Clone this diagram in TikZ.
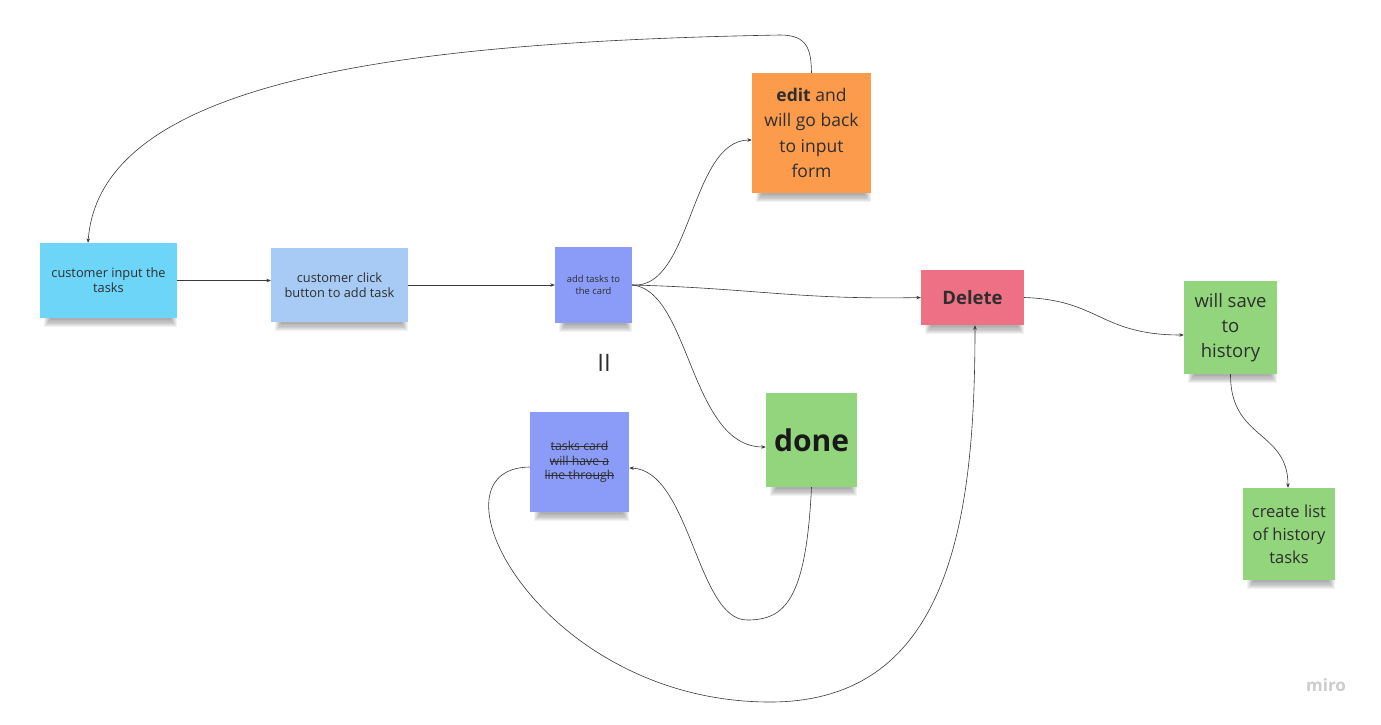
\documentclass[tikz,border=0pt]{standalone}
\usepackage{fontspec}
\setmainfont{Open Sans}
\usetikzlibrary{arrows.meta}
\pgfdeclarelayer{bg}
\pgfsetlayers{bg,main}
\newcommand\mystrike[1]{\setbox0\hbox{#1}\rlap{\raisebox{0.3em}{\rule{\wd0}{0.55pt}}}\box0}
\newcommand\nshadow[1]{%
  \begin{pgfonlayer}{bg}
  \foreach \k in {0,...,6}{%
    \fill[black,opacity=0.05] ([xshift={(10-\k)*1pt}, yshift=6pt]#1.south west) rectangle ([xshift={-(6-\k)*1pt}, yshift={-(2+1.2*\k)*1pt}]#1.south east);}
  \end{pgfonlayer}}
\definecolor{cyanN}{HTML}{6DD5F8}
\definecolor{lblueN}{HTML}{A7CBF4}
\definecolor{periN}{HTML}{8B9CF8}
\definecolor{orangeN}{HTML}{FC9B4C}
\definecolor{greenN}{HTML}{92D57C}
\definecolor{pinkN}{HTML}{EE7085}
\definecolor{txtN}{HTML}{2E2E2E}
\definecolor{lineN}{HTML}{3A3A3A}
\tikzset{
  note/.style={rectangle, inner sep=2pt, align=center, text=txtN},
  conn/.style={draw=lineN, line width=0.6pt, -{Stealth[length=4.5pt,width=3.5pt]}},
}
\begin{document}
\begin{tikzpicture}[x=1pt,y=-1pt]
\useasboundingbox (0,0) rectangle (1381,724);
\begin{pgfonlayer}{bg}
\fill[white] (0,0) rectangle (1381,724);
\end{pgfonlayer}
% notes
\node[note, fill=cyanN, minimum width=137pt, minimum height=75pt, font=\fontsize{12.8}{15}\selectfont] (input) at (108.5,280.5) {customer input the\\tasks};
\node[note, fill=lblueN, minimum width=137pt, minimum height=74pt, font=\fontsize{12.8}{15.5}\selectfont] (click) at (339.5,285) {customer click\\button to add task};
\node[note, fill=periN, minimum width=77pt, minimum height=76pt, font=\fontsize{9.4}{11.5}\selectfont] (add) at (593.5,285) {add tasks to\\the card};
\node[note, fill=orangeN, minimum width=119pt, minimum height=120pt, font=\fontsize{17.5}{25.3}\selectfont] (edit) at (811.5,133) {\textbf{edit} and\\will go back\\to input\\form};
\node[note, fill=periN, minimum width=99pt, minimum height=100pt, font=\fontsize{12.3}{14.5}\selectfont] (card) at (579.5,462) {\mystrike{tasks card}\\\mystrike{will have a}\\\mystrike{line through}};
\node[note, fill=greenN, minimum width=91pt, minimum height=94pt, font=\fontsize{30}{36}\selectfont\bfseries, text=black!90] (done) at (811.5,440) {done};
\node[note, fill=pinkN, minimum width=103pt, minimum height=55pt, font=\fontsize{18.5}{20}\selectfont\bfseries] (delete) at (972.5,297.5) {Delete};
\node[note, fill=greenN, minimum width=93pt, minimum height=93pt, font=\fontsize{18.5}{25}\selectfont] (save) at (1230.5,327.5) {will save\\to\\history};
\node[note, fill=greenN, minimum width=92pt, minimum height=92pt, font=\fontsize{16.5}{23}\selectfont] (list) at (1289,534) {create list\\of history\\tasks};
\foreach \n in {input,click,add,edit,card,done,delete,save,list}{\nshadow{\n}}
\node[font=\fontsize{24}{24}\selectfont, text=txtN] (eq) at (604,363) {II};
\node[font=\fontsize{17}{17}\selectfont\bfseries, text=black!20] (miro) at (1326,685) {miro};
% connectors
\draw[conn] (input.east) -- (click.west |- input.east);
\draw[conn] (click.east |- add.east) -- (add.west);
\draw[conn] (add.east) .. controls (692,290) and (690,140) .. (edit.west |- 0,140);
\draw[conn] (add.east) .. controls (750,288) and (800,300) .. (delete.west);
\draw[conn] (add.east) .. controls (690,290) and (690,447) .. (done.west |- 0,447);
\coordinate (ft) at (780,35);
\draw[conn] (edit.north) .. controls (811,50) and (808,35) .. (ft) .. controls (400,42) and (100,80) .. (input.north -| 88,0);
\coordinate (gb) at (747,620);
\draw[conn] (done.south) .. controls (806,600) and (785,620) .. (gb) .. controls (697,620) and (690,470) .. (card.east |- 0,468);
\coordinate (hb) at (770,702);
\draw[conn] (card.west |- 0,467) .. controls (420,468) and (540,702) .. (hb) .. controls (950,702) and (975,520) .. (delete.south -| 975,0);
\draw[conn] (delete.east) .. controls (1100,300) and (1100,335) .. (save.west |- 0,335);
\draw[conn] (save.south) .. controls (1230,440) and (1288,430) .. (list.north -| 1288,0);
\end{tikzpicture}
\end{document}
